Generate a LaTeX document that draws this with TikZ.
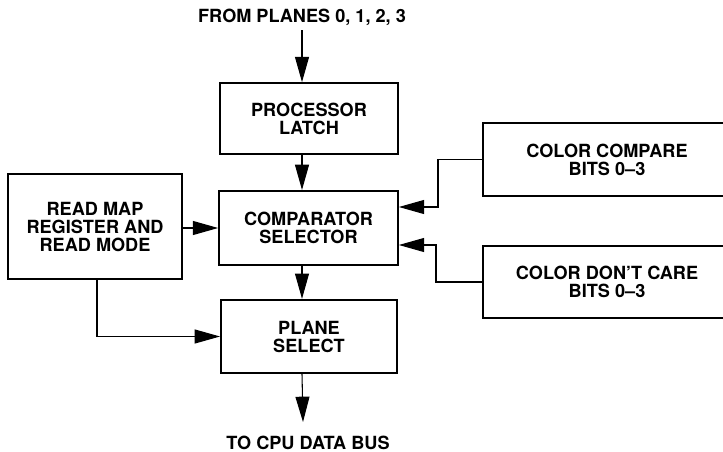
\documentclass[tikz,border=0pt]{standalone}
\usepackage{fontspec}
\setmainfont{TeX Gyre Heros}
\usetikzlibrary{arrows.meta,calc}
\begin{document}
\begin{tikzpicture}[x=0.75pt,y=-0.75pt,
  every node/.style={font=\fontsize{13.6}{13.5}\selectfont\bfseries, align=center},
  blk/.style={draw, line width=1.5pt, inner sep=0pt},
  conn/.style={line width=0.8pt},
  arr/.style={conn, -{Triangle[length=19pt,width=10.5pt]}}]
\useasboundingbox (0,0) rectangle (723,452);
\clip (0,0) rectangle (723,452);
\node (title) at (302,17) {FROM PLANES 0, 1, 2, 3};
\node[blk, minimum width=133.5pt, minimum height=53pt] (latch) at (309,118.5) {PROCESSOR\\LATCH};
\node[blk, minimum width=134pt, minimum height=55.5pt] (comp) at (308.5,228) {COMPARATOR\\SELECTOR};
\node[blk, minimum width=132pt, minimum height=55pt] (plane) at (309,336.5) {PLANE\\SELECT};
\node[blk, minimum width=130.5pt, minimum height=78.75pt] (read) at (95,226.5) {READ MAP\\REGISTER AND\\READ MODE};
\node[blk, minimum width=186pt, minimum height=54.75pt] (compare) at (607,159.5) {COLOR COMPARE\\BITS 0--3};
\node[blk, minimum width=186pt, minimum height=54pt] (dontcare) at (607,282) {COLOR DON'T CARE\\BITS 0--3};
\node (bus) at (308,443) {TO CPU DATA BUS};
\coordinate (busin) at (303,422);
\draw[arr] (title.south) -- (title.south |- latch.north);
\draw[arr] (title.south |- latch.south) -- (title.south |- comp.north);
\draw[arr] (title.south |- comp.south) -- (title.south |- plane.north);
\draw[arr] (title.south |- plane.south) -- (busin);
\draw[arr] (read.east |- comp.west) -- (comp.west);
\draw[arr] ([xshift=1.5pt]read.south) |- (plane.west);
\draw[arr] (compare.west) -- ++(-44,0) |- ([yshift=15.75pt]comp.east);
\draw[arr] (dontcare.west) -- ++(-46,0) |- ([yshift=-12.75pt]comp.east);
\end{tikzpicture}
\end{document}
